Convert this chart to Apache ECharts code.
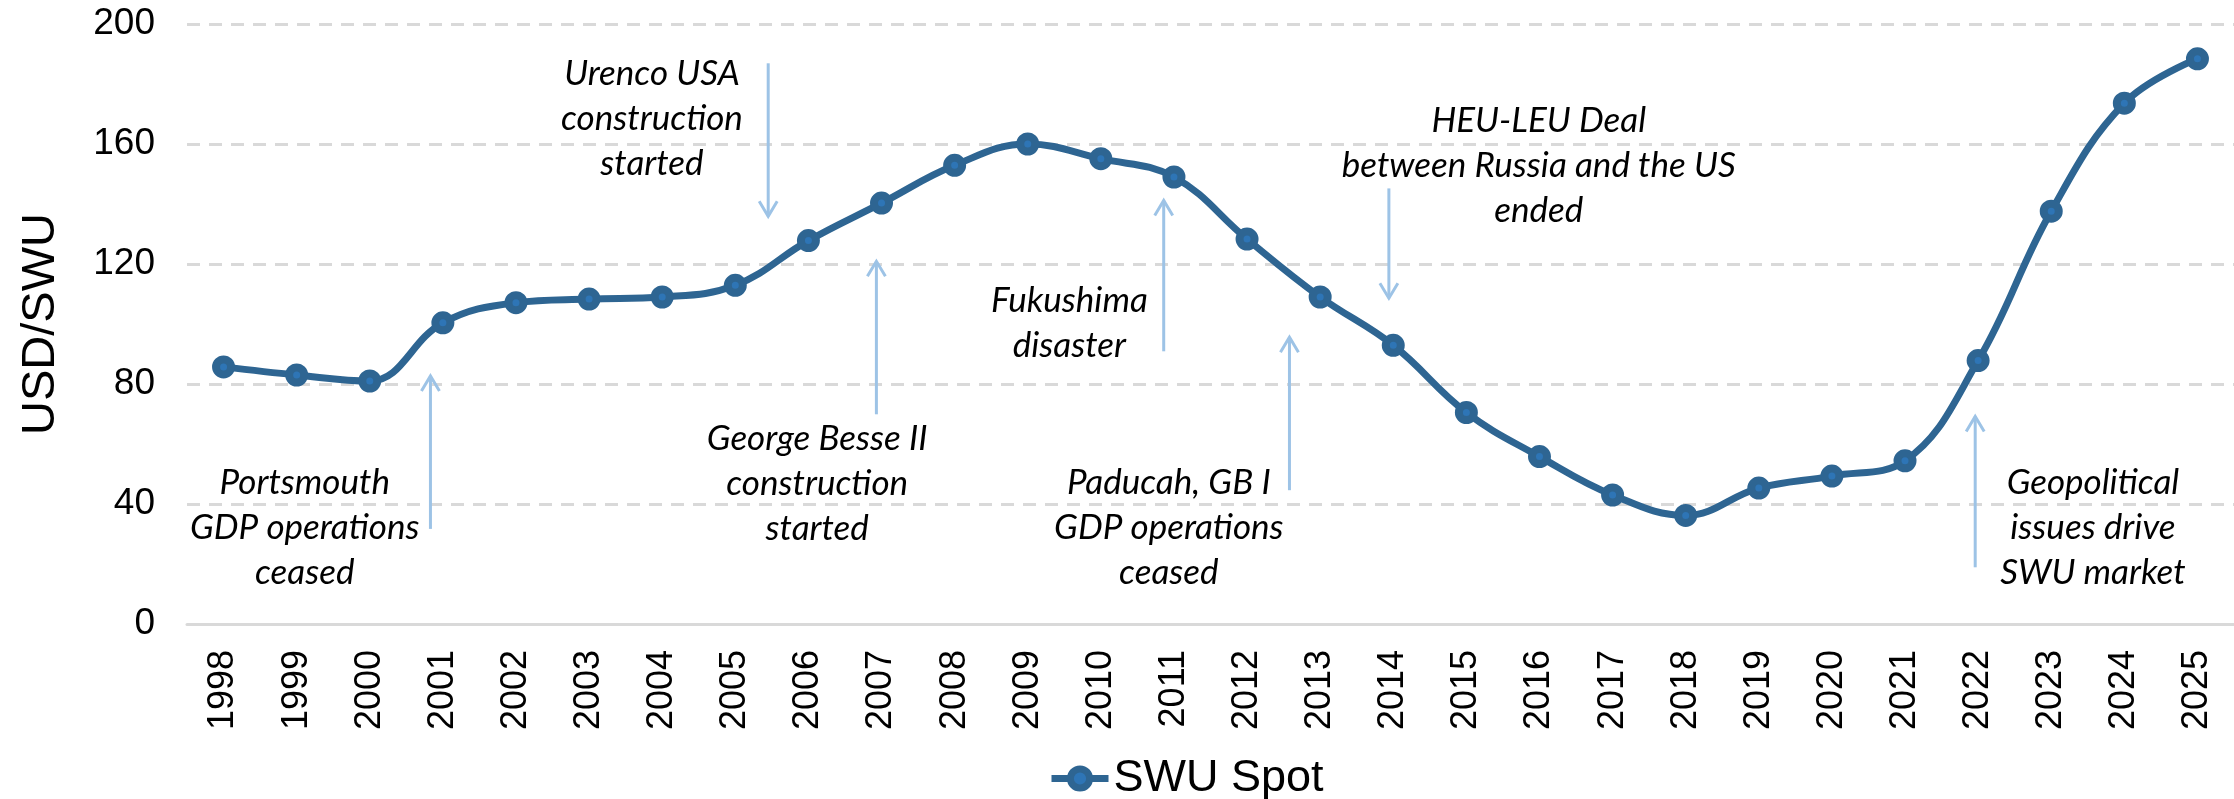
<!DOCTYPE html>
<html>
<head>
<meta charset="utf-8">
<script src="https://cdn.jsdelivr.net/npm/echarts@6/dist/echarts.min.js"></script>
<style>
html,body{margin:0;padding:0;background:#fff;}
#chart{width:2234px;height:799px;}
</style>
</head>
<body>
<div id="chart"></div>
<script>
// DATA
const years=['1998','1999','2000','2001','2002','2003','2004','2005','2006','2007','2008','2009','2010','2011',
  '2012','2013','2014','2015','2016','2017','2018','2019','2020','2021','2022','2023','2024','2025'];
const swuSpot=[85.7,83.0,81.0,100.4,107.1,108.3,109.0,112.9,127.8,140.3,152.9,160.0,155.1,149.0,
  128.3,109.0,92.9,70.5,55.8,43.0,36.2,45.3,49.3,54.4,87.8,137.6,173.6,188.4];

// annotations: text, centre (category index, value), arrow (category index, tail value, tip value)
const noteTexts=[
  'Portsmouth\nGDP operations\nceased',
  'Urenco USA\nconstruction\nstarted',
  'George Besse II\nconstruction\nstarted',
  'Fukushima\ndisaster',
  'Paducah, GB I\nGDP operations\nceased',
  'HEU-LEU Deal\nbetween Russia and the US\nended',
  'Geopolitical\nissues drive\nSWU market'
];
const noteX=[1.11,5.86,8.12,11.57,12.93,17.99,25.57];
const noteY=[32.0,168.4,46.7,100.4,32.0,152.9,32.0];
const arrowX=[2.83,7.45,8.93,12.86,14.58,15.94,23.96];
const arrowTail=[31.7,186.9,69.9,90.9,44.6,145.2,18.9];
const arrowTip=[82.7,135.9,120.9,141.2,95.6,108.6,69.2];

const LINE='#2E6592';
const ARROW='#9DC3E6';
const FONT='"Liberation Sans", Arial, sans-serif';
const NOTE_FONT='italic 35px Lato, "Open Sans", sans-serif';

const chart=echarts.init(document.getElementById('chart'),null,{renderer:'canvas'});

chart.setOption({
  animation:false,
  backgroundColor:'#fff',
  grid:{left:187,right:-4,top:24,bottom:175,containLabel:false},
  legend:{
    data:['SWU Spot'],left:1043,top:751,
    itemWidth:57,itemHeight:24,itemGap:10,
    lineStyle:{width:7,color:LINE},
    itemStyle:{color:'#2E75B6',borderColor:LINE,borderWidth:7},
    textStyle:{fontFamily:FONT,fontSize:45,color:'#000'}
  },
  xAxis:{
    type:'category',data:years,boundaryGap:true,
    axisLine:{show:true,lineStyle:{color:'#D9D9D9',width:3}},
    axisTick:{show:false},
    axisLabel:{rotate:90,margin:26,fontFamily:FONT,fontSize:36,color:'#000',interval:0},
    splitLine:{show:false}
  },
  yAxis:{
    type:'value',min:0,max:200,interval:40,
    name:'USD/SWU',nameLocation:'middle',nameGap:122,nameRotate:90,
    nameTextStyle:{fontFamily:FONT,fontSize:47,color:'#000'},
    axisLine:{show:false},axisTick:{show:false},
    axisLabel:{margin:32,fontFamily:FONT,fontSize:37,color:'#000'},
    splitLine:{lineStyle:{color:'#D9D9D9',width:3,type:[13,9]}}
  },
  series:[{
    name:'SWU Spot',type:'line',data:swuSpot,smooth:0.4,
    symbol:'circle',symbolSize:15,
    lineStyle:{color:LINE,width:7},
    itemStyle:{color:'#2E75B6',borderColor:LINE,borderWidth:8},
    z:3
  }]
});

// annotations placed through the chart's own scales
function px(idx,val){
  const a=chart.convertToPixel({xAxisIndex:0},0);
  const b=chart.convertToPixel({xAxisIndex:0},1);
  return [a+idx*(b-a),chart.convertToPixel({yAxisIndex:0},val)];
}
const elements=[];
noteTexts.forEach((t,i)=>{
  const p=px(noteX[i],noteY[i]);
  elements.push({type:'text',z:10,style:{text:t,x:p[0],y:p[1],font:NOTE_FONT,fill:'#000',
    align:'center',verticalAlign:'middle',lineHeight:45}});
  const tail=px(arrowX[i],arrowTail[i]);
  const tip=px(arrowX[i],arrowTip[i]);
  const dir=tip[1]<tail[1]?1:-1;
  elements.push({type:'line',z:5,shape:{x1:tail[0],y1:tail[1],x2:tip[0],y2:tip[1]},
    style:{stroke:ARROW,lineWidth:3}});
  elements.push({type:'polyline',z:5,shape:{points:[[tip[0]-9,tip[1]+dir*15],[tip[0],tip[1]],[tip[0]+9,tip[1]+dir*15]]},
    style:{stroke:ARROW,lineWidth:3,fill:null}});
});
chart.setOption({graphic:{elements:elements}});
</script>
</body>
</html>
